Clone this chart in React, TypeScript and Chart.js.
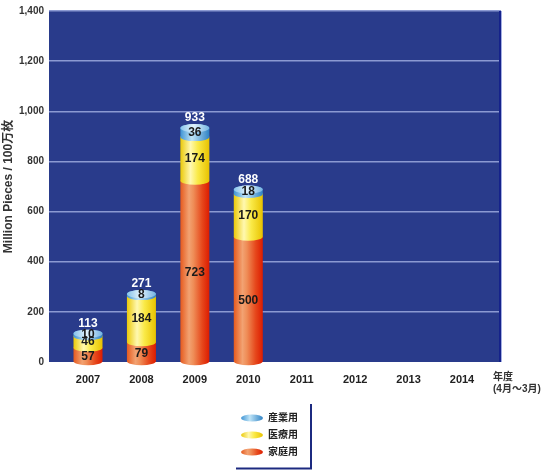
import React, { useEffect, useRef } from 'react';
import { Chart, registerables } from 'chart.js';

Chart.register(...registerables);

const years = [2007, 2008, 2009, 2010, 2011, 2012, 2013, 2014];
const dataYears = [2007, 2008, 2009, 2010];
const household = [57, 79, 723, 500];
const medical = [46, 184, 174, 170];
const industrial = [10, 8, 36, 18];
const totals = [113, 271, 933, 688];
const seriesNames = ['家庭用', '医療用', '産業用'];
const yTicks = [0, 200, 400, 600, 800, 1000, 1200, 1400];
const yTitle = 'Million Pieces / 100万枚';
const xTitleLines = ['年度', '(4月〜3月)'];

const FONT = "'Liberation Sans', Arial, 'Noto Sans CJK JP', sans-serif";

type Stop = [number, string];
const palettes: { body: Stop[]; cap?: Stop[] }[] = [
  { body: [[0, '#e65a1e'], [0.3, '#f2a272'], [0.45, '#ef8d57'], [0.75, '#e6481c'], [1, '#dc1c00']] },
  { body: [[0, '#ebc908'], [0.35, '#fff8b0'], [0.6, '#faea48'], [1, '#e8c200']] },
  {
    body: [[0, '#3f94d4'], [0.4, '#bfe4f7'], [1, '#2f82c4']],
    cap: [[0, '#86c2ea'], [0.45, '#e2f3fd'], [1, '#74b3e2']],
  },
];

function grad(ctx: CanvasRenderingContext2D, x0: number, x1: number, stops: Stop[]) {
  const g = ctx.createLinearGradient(x0, 0, x1, 0);
  stops.forEach(([o, c]) => g.addColorStop(o, c));
  return g;
}

const cylinderPlugin = {
  id: 'cylinders',
  beforeDraw(chart: any) {
    const { ctx, chartArea: a } = chart;
    ctx.save();
    ctx.fillStyle = '#293b8b';
    ctx.fillRect(a.left, a.top, a.right - a.left, a.bottom - a.top);
    ctx.restore();
  },
  afterDatasetsDraw(chart: any) {
    const ctx: CanvasRenderingContext2D = chart.ctx;
    const a = chart.chartArea;
    ctx.save();
    ctx.strokeStyle = '#15228a';
    ctx.lineWidth = 2;
    ctx.beginPath();
    ctx.moveTo(a.right - 1, a.top);
    ctx.lineTo(a.right - 1, a.bottom);
    ctx.stroke();
    ctx.strokeStyle = '#a4aee2';
    ctx.lineWidth = 1;
    ctx.beginPath();
    ctx.moveTo(a.right + 0.5, a.top);
    ctx.lineTo(a.right + 0.5, a.bottom);
    ctx.stroke();

    const nDs = chart.data.datasets.length;
    const n = chart.data.datasets[0].data.length;
    const labelsToDraw: { x: number; y: number; t: string; c: string }[] = [];
    for (let i = 0; i < n; i++) {
      let top: any = null;
      for (let d = 0; d < nDs; d++) {
        const el = chart.getDatasetMeta(d).data[i];
        if (!el) continue;
        const { x, y, base, width } = el.getProps(['x', 'y', 'base', 'width'], true);
        const rx = width / 2;
        const ry = 4;
        ctx.beginPath();
        ctx.moveTo(x - rx, y);
        ctx.lineTo(x - rx, base);
        ctx.ellipse(x, base, rx, ry, 0, Math.PI, 0, true);
        ctx.lineTo(x + rx, y);
        ctx.ellipse(x, y, rx, ry, 0, 0, Math.PI, true);
        ctx.closePath();
        ctx.fillStyle = grad(ctx, x - rx, x + rx, palettes[d].body);
        ctx.fill();
        const v = chart.data.datasets[d].data[i].y;
        labelsToDraw.push({ x, y: (y + base) / 2 + (d === 0 ? 2 : 0), t: String(v), c: '#1a1a1a' });
        top = { x, y, rx, ry, d };
      }
      if (top) {
        const cap = palettes[top.d].cap || palettes[top.d].body;
        ctx.beginPath();
        ctx.ellipse(top.x, top.y, top.rx, top.ry, 0, 0, Math.PI * 2);
        ctx.fillStyle = grad(ctx, top.x - top.rx, top.x + top.rx, cap);
        ctx.fill();
        labelsToDraw.push({ x: top.x, y: top.y - 10, t: String(totals[i]), c: '#ffffff' });
      }
    }
    ctx.font = `bold 12px ${FONT}`;
    ctx.textAlign = 'center';
    ctx.textBaseline = 'middle';
    labelsToDraw.forEach((l) => {
      ctx.fillStyle = l.c;
      ctx.fillText(l.t, l.x, l.y);
    });
    ctx.restore();
  },
  afterDraw(chart: any) {
    const ctx: CanvasRenderingContext2D = chart.ctx;
    const a = chart.chartArea;
    ctx.save();
    ctx.font = `bold 10px ${FONT}`;
    ctx.fillStyle = '#333';
    ctx.textAlign = 'left';
    ctx.textBaseline = 'middle';
    ctx.fillText(xTitleLines[0], a.right - 8, a.bottom + 15);
    ctx.fillText(xTitleLines[1], a.right - 8, a.bottom + 27);

    const boxRight = 311;
    const boxTop = 404;
    const boxBottom = 468.5;
    const boxLeft = 236;
    ctx.strokeStyle = '#1c2a80';
    ctx.lineWidth = 2;
    ctx.beginPath();
    ctx.moveTo(boxRight, boxTop);
    ctx.lineTo(boxRight, boxBottom);
    ctx.lineTo(boxLeft, boxBottom);
    ctx.stroke();

    const order = [2, 1, 0];
    order.forEach((d, k) => {
      const cy = 418 + k * 17;
      const cx = 252;
      ctx.beginPath();
      ctx.ellipse(cx, cy, 11, 3.6, 0, 0, Math.PI * 2);
      ctx.fillStyle = grad(ctx, cx - 11, cx + 11, palettes[d].body);
      ctx.fill();
      ctx.fillStyle = '#222';
      ctx.font = `bold 10px ${FONT}`;
      ctx.textAlign = 'left';
      ctx.fillText(seriesNames[d], 268, cy + 0.5);
    });
    ctx.restore();
  },
};

export default function App() {
  const ref = useRef<HTMLCanvasElement>(null);
  useEffect(() => {
    document.body.style.margin = '0';
    const mk = (vals: number[]) => dataYears.map((yr, i) => ({ x: yr, y: vals[i] }));
    const chart = new Chart(ref.current as HTMLCanvasElement, {
      type: 'bar',
      data: {
        datasets: [
          { label: seriesNames[0], data: mk(household), backgroundColor: 'rgba(0,0,0,0)', borderWidth: 0, barThickness: 29 },
          { label: seriesNames[1], data: mk(medical), backgroundColor: 'rgba(0,0,0,0)', borderWidth: 0, barThickness: 29 },
          { label: seriesNames[2], data: mk(industrial), backgroundColor: 'rgba(0,0,0,0)', borderWidth: 0, barThickness: 29 },
        ],
      } as any,
      options: {
        animation: false,
        responsive: false,
        devicePixelRatio: 1,
        layout: { padding: { left: 0, top: 5, right: 49, bottom: 81 } },
        plugins: { legend: { display: false }, tooltip: { enabled: false } },
        scales: {
          x: {
            type: 'linear',
            stacked: true,
            offset: false,
            min: 2006.27,
            max: 2014.73,
            afterBuildTicks: (scale: any) => {
              scale.ticks = years.map((v) => ({ value: v }));
            },
            afterFit: (scale: any) => {
              scale.height = 30;
            },
            ticks: {
              autoSkip: false,
              maxRotation: 0,
              padding: 3,
              color: '#222',
              font: { family: FONT, size: 11, weight: 'bold' },
              callback: (v: any) => String(v),
            },
            grid: { display: false },
            border: { display: false },
          },
          y: {
            stacked: true,
            min: yTicks[0],
            max: yTicks[yTicks.length - 1],
            afterBuildTicks: (scale: any) => {
              scale.ticks = yTicks.map((v) => ({ value: v }));
            },
            afterFit: (scale: any) => {
              scale.width = 49;
            },
            ticks: {
              padding: 5,
              color: '#333',
              font: { family: FONT, size: 10, weight: 'bold' },
              callback: (v: any) => Number(v).toLocaleString('en-US'),
            },
            grid: {
              color: (c: any) => (c.tick && c.tick.value === 0 ? 'rgba(0,0,0,0)' : '#8b99d2'),
              lineWidth: 1.5,
              drawTicks: false,
            },
            border: { display: false },
            title: {
              display: true,
              text: yTitle,
              color: '#333',
              font: { family: FONT, size: 12, weight: 'bold' },
              padding: { top: 1, bottom: 0 },
            },
          },
        },
      } as any,
      plugins: [cylinderPlugin],
    });
    return () => chart.destroy();
  }, []);
  return (
    <div style={{ width: 550, height: 473 }}>
      <canvas ref={ref} width={550} height={473} style={{ display: 'block' }} />
    </div>
  );
}
